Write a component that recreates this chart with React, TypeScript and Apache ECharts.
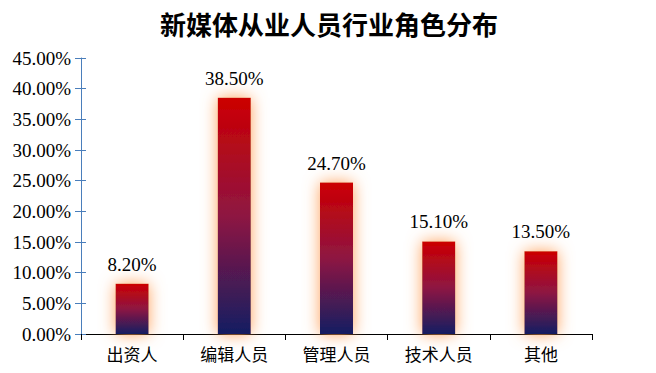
import React, { useEffect, useRef } from "react";
import * as echarts from "echarts";

const title = "新媒体从业人员行业角色分布";
const categories = ["出资人", "编辑人员", "管理人员", "技术人员", "其他"];
const values = [8.2, 38.5, 24.7, 15.1, 13.5];
const yMax = 45;
const yInterval = 5;

export default function App() {
  const ref = useRef<HTMLDivElement>(null);
  useEffect(() => {
    if (!ref.current) return;
    document.body.style.margin = "0";
    const chart = echarts.init(ref.current, null, { renderer: "svg" });
    const serif = "'Liberation Serif', 'Times New Roman', serif";
    const cjk = "'Noto Sans CJK SC', sans-serif";
    chart.setOption({
      animation: false,
      backgroundColor: "#ffffff",
      title: {
        text: title,
        left: 324,
        textAlign: "center",
        top: 5,
        textStyle: { fontFamily: cjk, fontWeight: "bold", fontSize: 26, color: "#000" },
      },
      grid: { left: 81, right: 64, top: 58, bottom: 39 },
      xAxis: {
        type: "category",
        data: categories,
        axisLine: { lineStyle: { color: "#000", width: 1 } },
        axisTick: { show: true, length: 6, lineStyle: { color: "#000" } },
        axisLabel: { fontFamily: cjk, fontSize: 17, color: "#000", margin: 11 },
      },
      yAxis: [
        {
          type: "value",
          min: 0,
          max: yMax,
          interval: yInterval,
          axisLine: { show: true, lineStyle: { color: "#4a7ebb", width: 1 } },
          axisTick: { show: true, length: 6, lineStyle: { color: "#4a7ebb" } },
          splitLine: { show: false },
          axisLabel: {
            fontFamily: serif,
            fontSize: 19,
            color: "#000",
            margin: 10,
            formatter: (v: number) => v.toFixed(2) + "%",
          },
        },
        {
          type: "value",
          position: "left",
          min: 0,
          max: yMax,
          interval: yInterval,
          axisLine: { show: false },
          axisTick: { show: true, inside: true, length: 5, lineStyle: { color: "#4a7ebb" } },
          splitLine: { show: false },
          axisLabel: { show: false },
        },
      ],
      series: [
        {
          type: "bar",
          data: values,
          barWidth: 33,
          itemStyle: {
            color: new echarts.graphic.LinearGradient(0, 0, 0, 1, [
              { offset: 0, color: "#cc0000" },
              { offset: 0.5, color: "#8e1542" },
              { offset: 1, color: "#141e62" },
            ]),
            shadowColor: "rgba(255,160,90,1)",
            shadowBlur: 16,
          },
          label: {
            show: true,
            position: "top",
            distance: 10,
            fontFamily: serif,
            fontSize: 19,
            color: "#000",
            formatter: (p: any) => p.value.toFixed(2) + "%",
          },
        },
      ],
    });
    return () => chart.dispose();
  }, []);
  return <div ref={ref} style={{ width: 656, height: 373 }} />;
}
